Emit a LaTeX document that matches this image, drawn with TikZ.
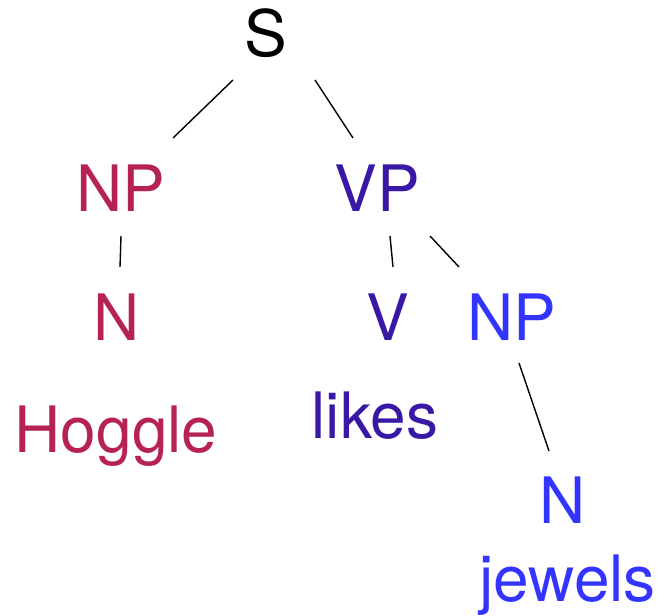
\documentclass[tikz,border=0pt]{standalone}
\usepackage{fontspec}
\setmainfont{TeX Gyre Heros}
\usetikzlibrary{calc}
\definecolor{crim}{RGB}{183,34,85}
\definecolor{purp}{RGB}{57,24,166}
\definecolor{blu}{RGB}{52,52,255}
\begin{document}
\begin{tikzpicture}[x=1pt,y=-1pt,
  lab/.style={anchor=base,inner sep=0pt,font=\fontsize{64}{70}\selectfont},
  edge/.style={draw=black,line width=1.4pt}]
\useasboundingbox (0,0) rectangle (660,615);
\node[lab,text=black] (S) at (265.5,57) {S};
\node[lab,text=crim] (NPa) at (120.5,211) {NP};
\node[lab,text=crim] (Na) at (117,340) {N};
\node[lab,text=crim] (Hog) at (116,452) {Hoggle};
\node[lab,text=purp] (VP) at (377,211) {VP};
\node[lab,text=purp] (V) at (388,340) {V};
\node[lab,text=purp] (likes) at (375,438) {likes};
\node[lab,text=blu] (NPb) at (512,340) {NP};
\node[lab,text=blu] (Nb) at (563,523) {N};
\node[lab,text=blu] (jew) at (567.5,601) {jewels};
\draw[edge] ($(S.base)+(-32.5,23)$) -- ($(NPa.base)+(52.5,-73)$);
\draw[edge] ($(S.base)+(49.5,23)$) -- ($(VP.base)+(-24,-73)$);
\draw[edge] ($(NPa.base)+(0.5,25)$) -- ($(Na.base)+(3,-73)$);
\draw[edge] ($(VP.base)+(13,25)$) -- ($(V.base)+(5,-73)$);
\draw[edge] ($(VP.base)+(53,25)$) -- ($(NPb.base)+(-53,-73)$);
\draw[edge] ($(NPb.base)+(7,23)$) -- ($(Nb.base)+(-14,-72)$);
\end{tikzpicture}
\end{document}
